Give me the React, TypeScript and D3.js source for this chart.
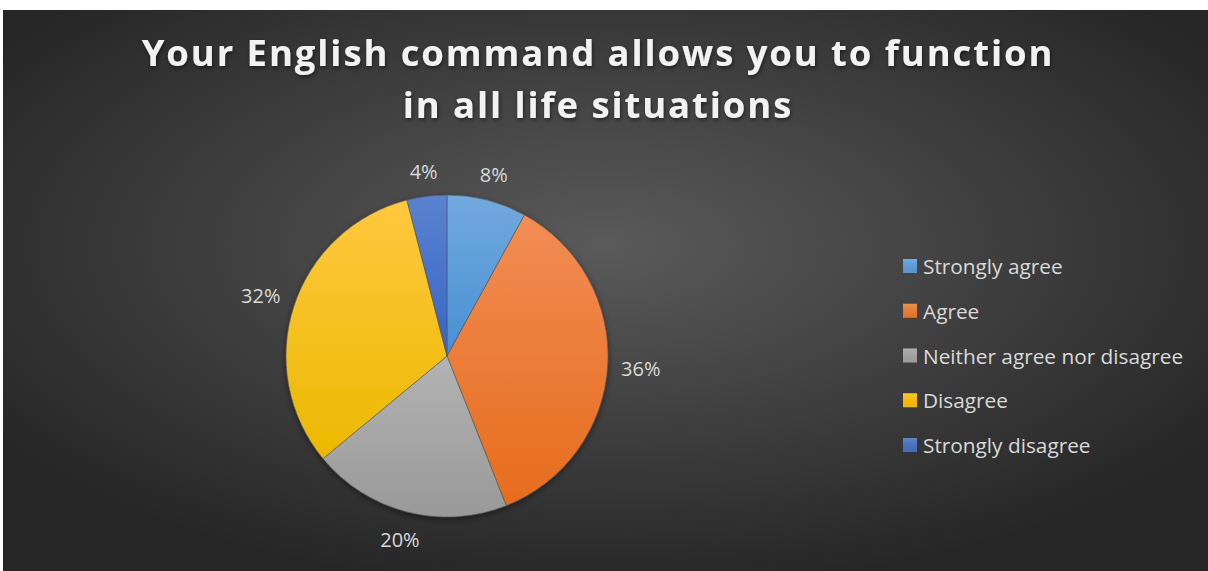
import * as d3 from "d3";

const categories = [
  "Strongly agree",
  "Agree",
  "Neither agree nor disagree",
  "Disagree",
  "Strongly disagree",
];
const values = [8, 36, 20, 32, 4];
const labels = ["8%", "36%", "20%", "32%", "4%"];
const colorsTop = ["#72a9de", "#f28d55", "#b3b3b3", "#ffc83f", "#5b82d0"];
const colorsBottom = ["#4790d3", "#e66c1c", "#999999", "#ecb900", "#3665c4"];
const legendColors = ["#5a9fdd", "#ed7d31", "#a5a5a5", "#ffc000", "#4472c4"];
const titleLines = ["Your English command allows you to function", "in all life situations"];

export default function App() {
  let width = 1208;
  let height = 571;
  let cx = 447;
  let cy = 356;
  let r = 161;

  let pie = d3.pie<number>().sort(null).value((d) => d);
  let arcs = pie(values);
  let arc = d3.arc<d3.PieArcDatum<number>>().innerRadius(0).outerRadius(r);

  let legendY = d3.scalePoint<string>().domain(categories).range([266, 445]);

  // label box sits just outside the pie edge, like Excel's "best fit"
  let labelFont = 20;
  let labelPos = (a: d3.PieArcDatum<number>, text: string) => {
    let ang = (a.startAngle + a.endAngle) / 2;
    let w = text.length * labelFont * 0.62;
    let h = labelFont * 1.0;
    let s = Math.sin(ang);
    let c = Math.cos(ang);
    let dist = r + 14 + Math.abs(s) * (w / 2) + Math.abs(c) * (h / 2);
    return [s * dist, -c * dist];
  };

  return (
    <div style={{ position: "absolute", left: 0, top: 0 }}>
      <svg width={width} height={height} style={{ display: "block" }}>
        <defs>
          <radialGradient id="bg" cx="0.5" cy="0.42" r="0.62" gradientUnits="objectBoundingBox">
            <stop offset="0" stopColor="#5a5a5a" />
            <stop offset="1" stopColor="#262626" />
          </radialGradient>
          {arcs.map((a, i) => (
            <linearGradient key={i} id={`g${i}`} x1="0" y1="0" x2="0" y2="1">
              <stop offset="0" stopColor={colorsTop[i]} />
              <stop offset="1" stopColor={colorsBottom[i]} />
            </linearGradient>
          ))}
          <linearGradient id="lg" x1="0" y1="0" x2="0" y2="1">
            <stop offset="0" stopColor="white" stopOpacity="0.15" />
            <stop offset="1" stopColor="black" stopOpacity="0.05" />
          </linearGradient>
          <filter id="shadow" x="-20%" y="-20%" width="140%" height="140%">
            <feDropShadow dx="1" dy="2" stdDeviation="2" floodColor="#000" floodOpacity="0.5" />
          </filter>
          <filter id="pieShadow" x="-10%" y="-10%" width="120%" height="120%">
            <feDropShadow dx="0" dy="2" stdDeviation="3" floodColor="#000" floodOpacity="0.45" />
          </filter>
        </defs>
        <rect width={width} height={height} fill="white" />
        <rect x={3} y={10} width={width - 3} height={height - 10} fill="url(#bg)" />

        {/* Title */}
        <g
          fontFamily="'Open Sans', sans-serif"
          fontWeight={700}
          fontSize={36.5}
          fill="#f2f2f2"
          textAnchor="middle"
          letterSpacing={1.9}
          filter="url(#shadow)"
        >
          {titleLines.map((t, i) => (
            <text key={i} x={598} y={66 + i * 52}>
              {t}
            </text>
          ))}
        </g>

        {/* Pie */}
        <g transform={`translate(${cx},${cy})`}>
          <g filter="url(#pieShadow)">
            {arcs.map((a, i) => (
              <path key={i} d={arc(a) ?? ""} fill={`url(#g${i})`} stroke="#555" strokeWidth={0.6} />
            ))}
          </g>
          {arcs.map((a, i) => {
            let [x, y] = labelPos(a, labels[i]);
            return (
              <text
                key={i}
                x={x}
                y={y}
                textAnchor="middle"
                dominantBaseline="central"
                fontFamily="'Open Sans', sans-serif"
                fontSize={labelFont}
                fill="#d9d9d9"
              >
                {labels[i]}
              </text>
            );
          })}
        </g>

        {/* Legend */}
        <g fontFamily="'Open Sans', sans-serif" fontSize={20.8} fill="#d9d9d9">
          {categories.map((c, i) => (
            <g key={c} transform={`translate(903,${legendY(c)})`}>
              <rect x={0} y={-7} width={14} height={14} fill={legendColors[i]} />
              <rect x={0} y={-7} width={14} height={14} fill="url(#lg)" />
              <text x={20} y={0} dominantBaseline="central">
                {c}
              </text>
            </g>
          ))}
        </g>
      </svg>
    </div>
  );
}
